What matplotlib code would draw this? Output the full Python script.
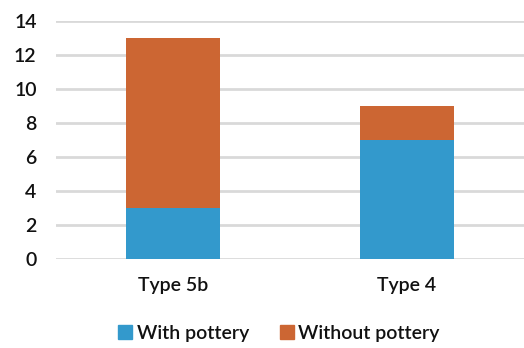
import matplotlib
matplotlib.use("Agg")
import matplotlib.pyplot as plt
from matplotlib.patches import Patch

categories = ["Type 5b", "Type 4"]
with_pottery = [3, 7]
without_pottery = [10, 2]
y_ticks = [0, 2, 4, 6, 8, 10, 12, 14]

blue = "#3399CC"
orange = "#CC6633"
grid = "#D9D9D9"
font = "Lato"
weight = "semibold"
text_color = "#111111"

fig = plt.figure(figsize=(5.24, 3.48), dpi=100)
ax = fig.add_axes([56 / 524, 89 / 348, 1 - 56 / 524, 238 / 348])

x = range(len(categories))
ax.bar(x, with_pottery, width=0.4, color=blue, zorder=3)
ax.bar(x, without_pottery, width=0.4, bottom=with_pottery, color=orange, zorder=3)

ax.set_xlim(-0.5, len(categories) - 0.5)
ax.set_ylim(0, 14)
ax.set_yticks(y_ticks)
ax.set_yticklabels([str(v) for v in y_ticks], fontsize=14, family=font,
                   fontweight=weight, color=text_color)
ax.set_xticks(list(x))
ax.set_xticklabels(categories, fontsize=14, family=font, fontweight=weight, color=text_color)
ax.tick_params(axis="both", length=0)
ax.tick_params(axis="y", pad=14)
ax.tick_params(axis="x", pad=13)
ax.yaxis.grid(True, color=grid, linewidth=2)
ax.set_axisbelow(True)
for s in ax.spines.values():
    s.set_visible(False)

handles = [Patch(color=blue, label="With pottery"), Patch(color=orange, label="Without pottery")]
fig.legend(handles=handles, loc="center", bbox_to_anchor=(279 / 524, 1 - 333 / 348),
           ncol=2, frameon=False, prop={"family": font, "size": 14, "weight": weight},
           handlelength=0.7, handleheight=0.75, handletextpad=0.25, columnspacing=1.6,
           labelcolor=text_color)

fig.savefig("out.png", dpi=100)
